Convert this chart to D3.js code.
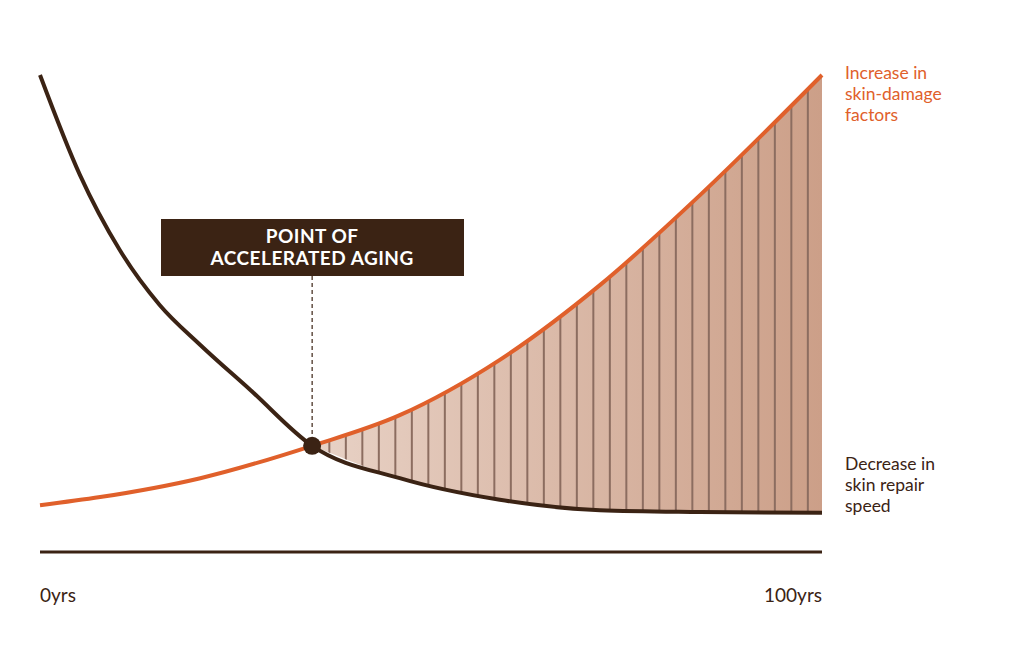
<!DOCTYPE html>
<html><head><meta charset="utf-8">
<script src="https://cdn.jsdelivr.net/npm/d3@7"></script>
<style>body{margin:0;background:#fff}text{font-family:Lato,"Noto Sans",sans-serif}</style>
</head><body><svg id="chart" width="1024" height="645"></svg>
<script>
// Data (x in years, y in relative units 0-100)
const damageYears = [0, 7.7, 20.5, 34.8, 46, 58.8, 71.6, 84.4, 100];
const damageValues = [4.4, 6.2, 10.4, 17.6, 24.4, 36.7, 53.3, 73.3, 100];
const repairYears = [0, 5.1, 10.2, 15.3, 20.5, 26.9, 34.8, 46, 58.8, 71.6, 84.4, 100];
const repairValues = [100, 77.8, 61.1, 48.9, 40, 30, 17.6, 10.4, 5.6, 3.3, 2.9, 2.7];
const crossYear = 34.8, crossValue = 17.6;
const axisLabels = ["0yrs", "100yrs"];

const orange = "#e0602b", dark = "#3b2314";
const svg = d3.select("#chart");
const x = d3.scaleLinear().domain([0, 100]).range([40, 822]);
const y = d3.scaleLinear().domain([0, 100]).range([525, 75]);

const damage = damageYears.map((t, i) => ({t, v: damageValues[i]}));
const repair = repairYears.map((t, i) => ({t, v: repairValues[i]}));

// shaded region between the curves after the crossing
const grad = svg.append("defs").append("linearGradient").attr("id", "g");
grad.append("stop").attr("offset", "0%").attr("stop-color", "#e8d2c6");
grad.append("stop").attr("offset", "100%").attr("stop-color", "#cc9f88");

const line = d3.line().x(d => x(d.t)).y(d => y(d.v)).curve(d3.curveMonotoneX);
const topPart = damage.filter(d => d.t >= crossYear);
const botPart = repair.filter(d => d.t >= crossYear).reverse();
const areaPath = line(topPart) + "L" + line(botPart).slice(1) + "Z";

svg.select("defs").append("clipPath").attr("id", "clip").append("path").attr("d", areaPath);
svg.append("path").attr("d", areaPath).attr("fill", "url(#g)");
svg.append("g").attr("clip-path", "url(#clip)")
  .selectAll("line").data(d3.range(crossYear + 2.2, 100.1, 2.11)).join("line")
  .attr("x1", d => x(d)).attr("x2", d => x(d))
  .attr("y1", y(100)).attr("y2", y(0))
  .attr("stroke", "#8c6d60").attr("stroke-width", 2);

svg.append("path").attr("d", line(repair)).attr("fill", "none").attr("stroke", dark).attr("stroke-width", 4);
svg.append("path").attr("d", line(damage)).attr("fill", "none").attr("stroke", orange).attr("stroke-width", 4);

// baseline
svg.append("line").attr("x1", x(0)).attr("x2", x(100)).attr("y1", 552).attr("y2", 552)
  .attr("stroke", dark).attr("stroke-width", 3);
svg.append("text").text(axisLabels[0]).attr("x", x(0)).attr("y", 602).attr("font-size", 19).attr("fill", dark);
svg.append("text").text(axisLabels[1]).attr("x", x(100)).attr("y", 602).attr("text-anchor", "end").attr("font-size", 19).attr("fill", dark);

// crossing marker and callout
const cx = x(crossYear), cy = y(crossValue);
svg.append("line").attr("x1", cx).attr("x2", cx).attr("y1", 276).attr("y2", cy)
  .attr("stroke", dark).attr("stroke-dasharray", "4,3").attr("stroke-width", 1.2);
svg.append("circle").attr("cx", cx).attr("cy", cy).attr("r", 9).attr("fill", dark);
svg.append("rect").attr("x", 161).attr("y", 219).attr("width", 303).attr("height", 57).attr("fill", dark);
["POINT OF", "ACCELERATED AGING"].forEach((t, i) =>
  svg.append("text").text(t).attr("x", cx).attr("y", 243 + i * 22).attr("text-anchor", "middle")
    .attr("font-size", 19).attr("font-weight", 700).attr("fill", "#fff").attr("letter-spacing", 0.5));

// series labels
["Increase in", "skin-damage", "factors"].forEach((t, i) =>
  svg.append("text").text(t).attr("x", 845).attr("y", 79 + i * 21).attr("font-size", 17.5).attr("fill", orange));
["Decrease in", "skin repair", "speed"].forEach((t, i) =>
  svg.append("text").text(t).attr("x", 845).attr("y", 470 + i * 21).attr("font-size", 17.5).attr("fill", dark));
</script></body></html>
